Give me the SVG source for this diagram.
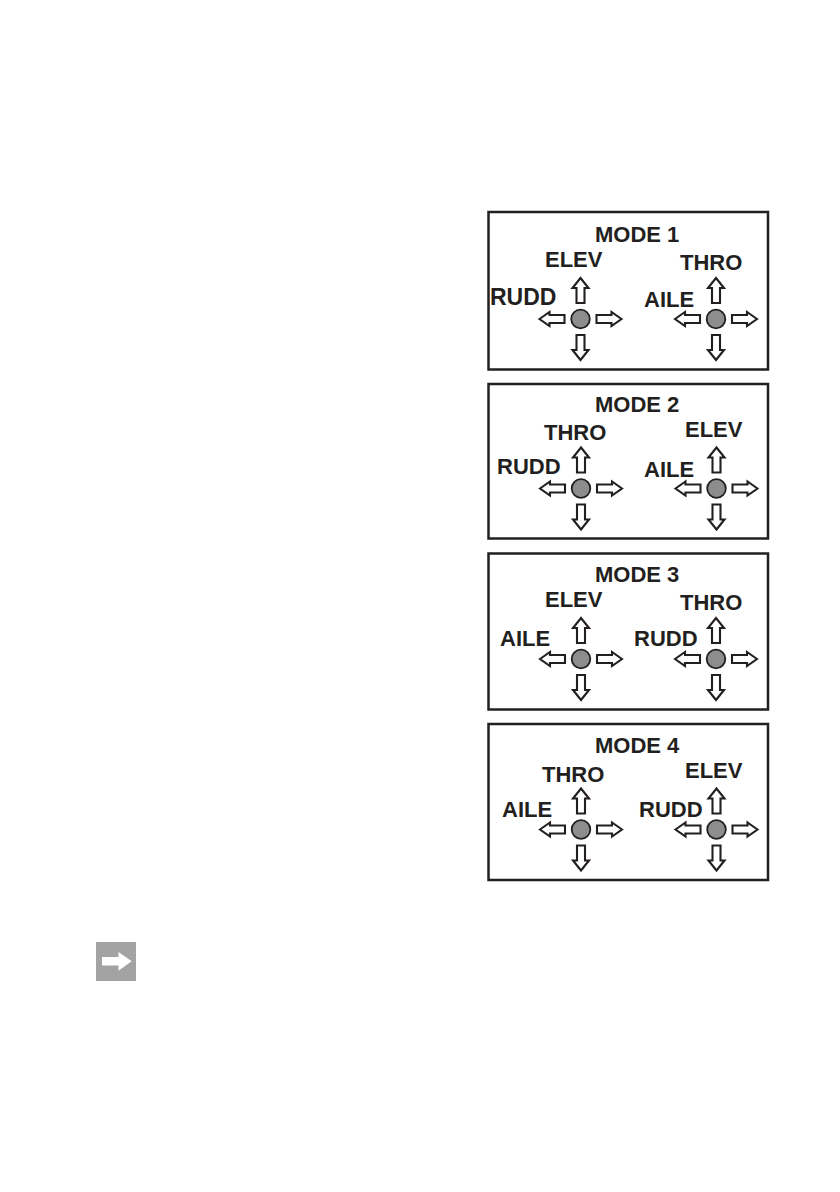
<svg xmlns="http://www.w3.org/2000/svg" xmlns:xlink="http://www.w3.org/1999/xlink" width="840" height="1192" viewBox="0 0 840 1192">
<style>
.box{fill:#ffffff;stroke:#231f20;stroke-width:2.5}
.t{font-family:"Liberation Sans",Arial,sans-serif;font-weight:bold;font-size:22px;fill:#231f20}
.arr{fill:#ffffff;stroke:#231f20;stroke-width:2.1;stroke-linejoin:miter}
.knob{fill:#8d8d8d;stroke:#231f20;stroke-width:1.8}
</style>
<defs>
<g id="stick">
<path class="arr" d="M0,-41 L8,-31 L4,-31 L4,-16 L-4,-16 L-4,-31 L-8,-31 Z"/>
<path class="arr" d="M0,41 L8,31 L4,31 L4,16 L-4,16 L-4,31 L-8,31 Z"/>
<path class="arr" d="M-41,0 L-31,-7 L-31,-4 L-16,-4 L-16,4 L-31,4 L-31,7 Z"/>
<path class="arr" d="M41,0 L31,-7 L31,-4 L16,-4 L16,4 L31,4 L31,7 Z"/>
<circle class="knob" cx="0" cy="0" r="9.3"/>
</g>
</defs>
<rect width="840" height="1192" fill="#ffffff"/>

<g id="mode1">
<rect class="box" x="488.5" y="212" width="279.5" height="157.5"/>
<text class="t" x="595" y="241.5">MODE 1</text>
<text class="t" x="545" y="267">ELEV</text>
<text class="t" x="680" y="270">THRO</text>
<text class="t" x="490" y="305" style="font-size:23px">RUDD</text>
<text class="t" x="644" y="306.5">AILE</text>
<use xlink:href="#stick" x="580.5" y="319"/>
<use xlink:href="#stick" x="716" y="319"/>
</g>

<g id="mode2">
<rect class="box" x="488.5" y="384" width="279.5" height="154.5"/>
<text class="t" x="595" y="411.5">MODE 2</text>
<text class="t" x="544" y="440">THRO</text>
<text class="t" x="685" y="436.5">ELEV</text>
<text class="t" x="497" y="474.3">RUDD</text>
<text class="t" x="644" y="476.5">AILE</text>
<use xlink:href="#stick" x="581" y="488.5"/>
<use xlink:href="#stick" x="716.5" y="488.5"/>
</g>

<g id="mode3">
<rect class="box" x="488.5" y="553.5" width="279.5" height="156"/>
<text class="t" x="595" y="581.5">MODE 3</text>
<text class="t" x="545" y="607.3">ELEV</text>
<text class="t" x="680" y="610">THRO</text>
<text class="t" x="500" y="646">AILE</text>
<text class="t" x="634" y="646">RUDD</text>
<use xlink:href="#stick" x="581" y="659"/>
<use xlink:href="#stick" x="716" y="659"/>
</g>

<g id="mode4">
<rect class="box" x="488.5" y="724" width="279.5" height="156"/>
<text class="t" x="595" y="752.5">MODE 4</text>
<text class="t" x="542" y="781.7">THRO</text>
<text class="t" x="685" y="778.3">ELEV</text>
<text class="t" x="502" y="817.3">AILE</text>
<text class="t" x="639" y="816.7">RUDD</text>
<use xlink:href="#stick" x="581" y="829.5"/>
<use xlink:href="#stick" x="716.5" y="829.5"/>
</g>

<g id="note-icon">
<rect x="96" y="942" width="40" height="39" fill="#a3a3a3"/>
<path d="M102,957 L118.5,957 L118.5,952 L131.7,961.3 L118.5,970.8 L118.5,965.5 L102,965.5 Z" fill="#ffffff"/>
</g>

<g id="connectors"></g>
</svg>
